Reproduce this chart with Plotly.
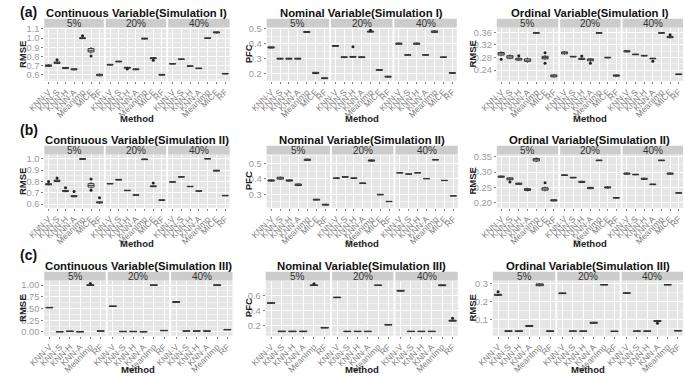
import plotly.graph_objects as go

# ---------------- data ----------------
methods7 = ["KNN-V", "KNN-S", "KNN-H", "KNN-A", "MeanImp", "MICE", "RF"]
methods6 = ["KNN-V", "KNN-S", "KNN-H", "KNN-A", "MeanImp", "RF"]
facets = ["5%", "20%", "40%"]

# medians per facet (5%, 20%, 40%)
cont1_med = [[0.700, 0.732, 0.674, 0.660, 1.000, 0.868, 0.598],
             [0.710, 0.745, 0.677, 0.660, 0.995, 0.782, 0.600],
             [0.720, 0.770, 0.695, 0.670, 1.000, 1.063, 0.612]]
cont1_iqr = [[0.008, 0.008, 0.006, 0.006, 0.005, 0.018, 0.008],
             [0.004, 0.004, 0.005, 0.005, 0.005, 0.006, 0.004],
             [0.003, 0.003, 0.003, 0.003, 0.003, 0.006, 0.003]]
cont1_out = [("5%", "KNN-S", 0.765), ("5%", "MeanImp", 1.025), ("5%", "MICE", 0.805),
             ("20%", "KNN-H", 0.662), ("20%", "MICE", 0.758)]

nom1_med = [[0.375, 0.300, 0.300, 0.300, 0.478, 0.205, 0.170],
            [0.385, 0.310, 0.312, 0.310, 0.480, 0.225, 0.180],
            [0.400, 0.325, 0.400, 0.325, 0.480, 0.310, 0.205]]
nom1_iqr = [[0.004, 0.003, 0.003, 0.003, 0.003, 0.004, 0.003],
            [0.003, 0.003, 0.003, 0.003, 0.003, 0.003, 0.003],
            [0.004, 0.002, 0.004, 0.002, 0.005, 0.002, 0.003]]
nom1_out = [("20%", "KNN-H", 0.380), ("20%", "MeanImp", 0.490)]

ord1_med = [[0.292, 0.282, 0.275, 0.272, 0.358, 0.280, 0.222],
            [0.295, 0.283, 0.276, 0.273, 0.358, 0.280, 0.223],
            [0.300, 0.290, 0.286, 0.277, 0.358, 0.345, 0.227]]
ord1_iqr = [[0.004, 0.004, 0.003, 0.004, 0.001, 0.004, 0.003],
            [0.003, 0.001, 0.002, 0.003, 0.001, 0.001, 0.002],
            [0.002, 0.001, 0.001, 0.001, 0.001, 0.002, 0.001]]
ord1_out = [("5%", "KNN-V", 0.275), ("5%", "KNN-H", 0.286), ("5%", "MICE", 0.295),
            ("5%", "MICE", 0.262), ("20%", "KNN-H", 0.285), ("20%", "KNN-A", 0.262),
            ("40%", "KNN-A", 0.268), ("40%", "MICE", 0.352)]

cont2_med = [[0.775, 0.805, 0.715, 0.670, 0.998, 0.765, 0.615],
             [0.780, 0.815, 0.720, 0.680, 0.995, 0.757, 0.635],
             [0.795, 0.840, 0.755, 0.715, 1.000, 0.895, 0.675]]
cont2_iqr = [[0.005, 0.006, 0.005, 0.005, 0.004, 0.015, 0.005],
             [0.002, 0.003, 0.002, 0.002, 0.003, 0.004, 0.003],
             [0.002, 0.002, 0.002, 0.002, 0.002, 0.004, 0.002]]
cont2_out = [("5%", "KNN-V", 0.800), ("5%", "KNN-S", 0.830), ("5%", "KNN-H", 0.745),
             ("5%", "KNN-A", 0.710), ("5%", "MICE", 0.822), ("5%", "MICE", 0.722),
             ("5%", "RF", 0.655), ("20%", "MICE", 0.785)]

nom2_med = [[0.390, 0.405, 0.390, 0.362, 0.525, 0.265, 0.232],
            [0.405, 0.413, 0.405, 0.372, 0.520, 0.298, 0.253],
            [0.440, 0.432, 0.440, 0.402, 0.525, 0.390, 0.290]]
nom2_iqr = [[0.004, 0.006, 0.004, 0.005, 0.004, 0.003, 0.003],
            [0.002, 0.002, 0.002, 0.002, 0.004, 0.002, 0.001],
            [0.001, 0.001, 0.001, 0.001, 0.001, 0.001, 0.001]]
nom2_out = []

ord2_med = [[0.285, 0.278, 0.262, 0.243, 0.340, 0.245, 0.208],
            [0.290, 0.282, 0.268, 0.248, 0.338, 0.250, 0.216],
            [0.295, 0.292, 0.278, 0.260, 0.338, 0.295, 0.232]]
ord2_iqr = [[0.002, 0.003, 0.002, 0.003, 0.004, 0.004, 0.002],
            [0.001, 0.001, 0.002, 0.002, 0.001, 0.002, 0.001],
            [0.002, 0.001, 0.002, 0.001, 0.001, 0.002, 0.001]]
ord2_out = [("5%", "KNN-S", 0.268), ("5%", "MICE", 0.265)]

cont3_med = [[0.520, 0.005, 0.015, 0.005, 1.000, 0.020],
             [0.550, 0.010, 0.010, 0.005, 1.000, 0.030],
             [0.640, 0.020, 0.020, 0.020, 1.000, 0.050]]
cont3_iqr = [[0.005, 0.005, 0.005, 0.005, 0.008, 0.005],
             [0.005, 0.005, 0.005, 0.005, 0.005, 0.005],
             [0.010, 0.005, 0.005, 0.005, 0.008, 0.005]]
cont3_out = [("5%", "MeanImp", 1.035)]

nom3_med = [[0.505, 0.120, 0.120, 0.120, 0.745, 0.170],
            [0.580, 0.120, 0.120, 0.120, 0.745, 0.210],
            [0.670, 0.120, 0.120, 0.120, 0.745, 0.265]]
nom3_iqr = [[0.005, 0.004, 0.004, 0.004, 0.004, 0.004],
            [0.004, 0.003, 0.003, 0.003, 0.003, 0.004],
            [0.006, 0.003, 0.003, 0.003, 0.006, 0.006]]
nom3_out = [("5%", "MeanImp", 0.765), ("40%", "RF", 0.300)]

ord3_med = [[0.238, 0.033, 0.033, 0.062, 0.295, 0.033],
            [0.247, 0.033, 0.033, 0.080, 0.295, 0.032],
            [0.248, 0.033, 0.033, 0.090, 0.295, 0.035]]
ord3_iqr = [[0.003, 0.002, 0.002, 0.003, 0.005, 0.002],
            [0.002, 0.001, 0.001, 0.003, 0.001, 0.001],
            [0.002, 0.001, 0.001, 0.003, 0.001, 0.001]]
ord3_out = [("5%", "KNN-V", 0.255), ("40%", "KNN-A", 0.078)]

# tick labels
cont1_ticks = [0.6, 0.7, 0.8, 0.9, 1.0, 1.1]
nom1_ticks = [0.2, 0.3, 0.4, 0.5]
ord1_ticks = [0.24, 0.28, 0.32, 0.36]
cont2_ticks = [0.6, 0.7, 0.8, 0.9, 1.0]
nom2_ticks = [0.3, 0.4, 0.5]
ord2_ticks = [0.20, 0.25, 0.30, 0.35]
cont3_ticks = [0.00, 0.25, 0.50, 0.75, 1.00]
nom3_ticks = [0.2, 0.4, 0.6]
ord3_ticks = [0.1, 0.2, 0.3]

panel_titles = [["Continuous Variable(Simulation I)", "Nominal Variable(Simulation I)", "Ordinal Variable(Simulation I)"],
                ["Continuous Variable(Simulation II)", "Nominal Variable(Simulation II)", "Ordinal Variable(Simulation II)"],
                ["Continuous Variable(Simulation III)", "Nominal Variable(Simulation III)", "Ordinal Variable(Simulation III)"]]
y_titles = ["RMSE", "PFC", "RMSE"]
row_labels = ["(a)", "(b)", "(c)"]

# ---------------- layout (pixels) ----------------
W, H = 685, 377
facet_x = [
    [[(28, 89), (91, 153), (155, 218)], [(256, 320), (322, 385), (387, 451)], [(492, 555), (557, 619), (621, 683)]],
    [[(28, 89), (91, 153), (155, 218)], [(256, 321), (323, 386), (388, 452)], [(492, 555), (557, 619), (621, 683)]],
    [[(28, 91), (93, 156), (158, 221)], [(255, 321), (323, 386), (388, 452)], [(488, 552), (554, 618), (620, 683)]],
]
rows_y = [  # strip top, plot top, plot bottom, title y, method y, label y
    (15, 24, 78, 9, 116, 8),
    (144, 153, 207, 138, 243, 128),
    (272, 281, 337, 266, 371, 255),
]
ytitle_x = [5, 237, 467]

panels = [
    [(cont1_med, cont1_iqr, cont1_out, [0.535, 1.115], cont1_ticks, ".1f", 0.05),
     (nom1_med, nom1_iqr, nom1_out, [0.153, 0.507], nom1_ticks, ".1f", 0.05),
     (ord1_med, ord1_iqr, ord1_out, [0.2065, 0.375], ord1_ticks, ".2f", 0.02)],
    [(cont2_med, cont2_iqr, cont2_out, [0.568, 1.037], cont2_ticks, ".1f", 0.05),
     (nom2_med, nom2_iqr, nom2_out, [0.2125, 0.559], nom2_ticks, ".1f", 0.05),
     (ord2_med, ord2_iqr, ord2_out, [0.184, 0.357], ord2_ticks, ".2f", 0.025)],
    [(cont3_med, cont3_iqr, cont3_out, [-0.078, 1.098], cont3_ticks, ".2f", 0.125),
     (nom3_med, nom3_iqr, nom3_out, [0.063, 0.809], nom3_ticks, ".1f", 0.1),
     (ord3_med, ord3_iqr, ord3_out, [0.0075, 0.319], ord3_ticks, ".1f", 0.05)],
]

FONT = "Liberation Sans, Arial, sans-serif"
TICKC = "#7f7f7f"
fig = go.Figure()
layout = {}
shapes = []
annotations = []


def px_x(v):
    return v / W


def px_y(v):
    return 1 - v / H


idx = 0
for r in range(3):
    strip_top, plot_top, plot_bot, title_y, method_y, label_y = rows_y[r]
    methods = methods7 if r < 2 else methods6
    annotations.append(dict(text="<b>%s</b>" % row_labels[r], x=px_x(1), y=px_y(label_y), xref="paper",
                            yref="paper", xanchor="left", yanchor="middle", showarrow=False,
                            font=dict(size=14, color="#111", family=FONT)))
    for p in range(3):
        med, iqr, outs, yr, ticks, fmt, minor_dt = panels[r][p]
        fx = facet_x[r][p]
        cx = (fx[0][0] + fx[2][1]) / 2
        annotations.append(dict(text="<b>%s</b>" % panel_titles[r][p], x=px_x(cx), y=px_y(title_y),
                                xref="paper", yref="paper", xanchor="center", yanchor="middle",
                                showarrow=False, font=dict(size=11.3, color="#111", family=FONT)))
        annotations.append(dict(text="<b>Method</b>", x=px_x(cx), y=px_y(method_y),
                                xref="paper", yref="paper", xanchor="center", yanchor="middle",
                                showarrow=False, font=dict(size=9.5, color="#222", family=FONT)))
        annotations.append(dict(text="<b>%s</b>" % y_titles[p], x=px_x(ytitle_x[p]),
                                y=px_y((plot_top + plot_bot) / 2), xref="paper", yref="paper",
                                xanchor="center", yanchor="middle", textangle=-90, showarrow=False,
                                font=dict(size=9.5, color="#222", family=FONT)))
        for f in range(3):
            idx += 1
            sfx = "" if idx == 1 else str(idx)
            x0, x1 = fx[f]
            xa = "x" + sfx
            ya = "y" + sfx
            layout["xaxis" + sfx] = dict(
                domain=[px_x(x0), px_x(x1)], anchor=ya, type="category",
                categoryorder="array", categoryarray=methods, range=[-0.5, len(methods) - 0.5],
                tickmode="array", tickvals=methods, ticktext=methods,
                tickangle=-45, tickfont=dict(size=8.6, color=TICKC, family=FONT),
                showgrid=True, gridcolor="white", gridwidth=1, zeroline=False, showline=False,
                ticks="outside", ticklen=2, tickcolor=TICKC, fixedrange=True)
            layout["yaxis" + sfx] = dict(
                domain=[px_y(plot_bot), px_y(plot_top)], anchor=xa, range=yr,
                tickmode="array", tickvals=ticks, tickformat=fmt,
                showticklabels=(f == 0), tickfont=dict(size=9.3, color="#999999", family=FONT),
                ticks="outside" if f == 0 else "", ticklen=2, tickcolor=TICKC,
                showgrid=True, gridcolor="white", gridwidth=1, zeroline=False, showline=False,
                minor=dict(showgrid=True, gridcolor="#F2F2F2", gridwidth=0.5,
                           tick0=ticks[0], dtick=minor_dt),
                fixedrange=True)
            # plot background
            shapes.append(dict(type="rect", xref="paper", yref="paper", x0=px_x(x0), x1=px_x(x1),
                               y0=px_y(plot_bot), y1=px_y(plot_top), fillcolor="#E5E5E5",
                               line=dict(width=0), layer="below"))
            # strip
            shapes.append(dict(type="rect", xref="paper", yref="paper", x0=px_x(x0), x1=px_x(x1),
                               y0=px_y(plot_top), y1=px_y(strip_top), fillcolor="#CCCCCC",
                               line=dict(width=0), layer="below"))
            annotations.append(dict(text=facets[f], x=px_x((x0 + x1) / 2), y=px_y((strip_top + plot_top) / 2),
                                    xref="paper", yref="paper", xanchor="center", yanchor="middle",
                                    showarrow=False, font=dict(size=10, color="#333", family=FONT)))
            m = med[f]
            h = iqr[f]
            q1 = [a - b for a, b in zip(m, h)]
            q3 = [a + b for a, b in zip(m, h)]
            lo = [a - 2 * b for a, b in zip(m, h)]
            hi = [a + 2 * b for a, b in zip(m, h)]
            fig.add_trace(go.Box(x=methods, q1=q1, median=m, q3=q3, lowerfence=lo, upperfence=hi,
                                 xaxis=xa, yaxis=ya, width=0.7, whiskerwidth=0,
                                 fillcolor="white", line=dict(color="#333333", width=1),
                                 boxpoints=False, showlegend=False, hoverinfo="skip"))
            ox = [o[1] for o in outs if o[0] == facets[f]]
            oy = [o[2] for o in outs if o[0] == facets[f]]
            if ox:
                fig.add_trace(go.Scatter(x=ox, y=oy, mode="markers", xaxis=xa, yaxis=ya,
                                         marker=dict(size=3, color="#222"), showlegend=False,
                                         hoverinfo="skip"))

fig.update_layout(width=W, height=H, margin=dict(l=0, r=0, t=0, b=0),
                  paper_bgcolor="white", plot_bgcolor="rgba(0,0,0,0)",
                  shapes=shapes, annotations=annotations, showlegend=False,
                  font=dict(family=FONT), **layout)
fig.write_html("out.html", post_script="document.body.style.margin='0';",
               config={"displayModeBar": False})
